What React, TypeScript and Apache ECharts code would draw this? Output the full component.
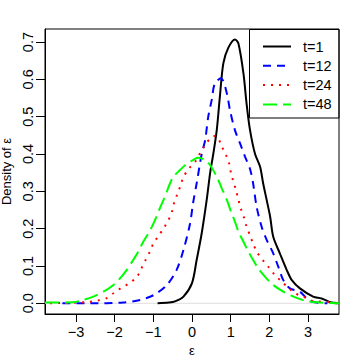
import React, { useEffect, useRef } from "react";
import * as echarts from "echarts";

const seriesNames = ["t=1", "t=12", "t=24", "t=48"];
const xTicks = [-3, -2, -1, 0, 1, 2, 3];
const yTicks = [0, 0.1, 0.2, 0.3, 0.4, 0.5, 0.6, 0.7];

const t1: number[][] = [
  [-0.89, 0], [-0.6, 0.002], [-0.44, 0.005], [-0.22, 0.018], [0, 0.054], [0.12, 0.116],
  [0.25, 0.187], [0.38, 0.277], [0.47, 0.35], [0.55, 0.4], [0.64, 0.464], [0.72, 0.553],
  [0.81, 0.643], [0.94, 0.685], [1.11, 0.707], [1.2, 0.696], [1.33, 0.616], [1.41, 0.536],
  [1.5, 0.464], [1.63, 0.4], [1.76, 0.366], [1.84, 0.321], [1.93, 0.277], [2.02, 0.232],
  [2.1, 0.178], [2.27, 0.134], [2.45, 0.089], [2.58, 0.062], [2.79, 0.04], [3.13, 0.018],
  [3.35, 0.013], [3.57, 0.003], [3.8, 0],
];
const t12: number[][] = [
  [-3.35, 0], [-2.64, 0], [-1.78, 0.002], [-1.34, 0.009], [-0.99, 0.022], [-0.65, 0.049],
  [-0.4, 0.089], [-0.22, 0.143], [-0.05, 0.214], [0.03, 0.27], [0.12, 0.321], [0.25, 0.4],
  [0.34, 0.437], [0.42, 0.5], [0.51, 0.545], [0.59, 0.589], [0.75, 0.603], [0.9, 0.563],
  [0.98, 0.518], [1.11, 0.464], [1.24, 0.429], [1.37, 0.393], [1.5, 0.36], [1.58, 0.321],
  [1.67, 0.259], [1.8, 0.205], [1.93, 0.17], [2.1, 0.134], [2.23, 0.098], [2.36, 0.062],
  [2.53, 0.04], [2.79, 0.031], [3.01, 0.009], [3.22, 0.002], [3.5, 0],
];
const t24: number[][] = [
  [-3.67, 0], [-2.72, 0.003], [-2.46, 0.007], [-2.22, 0.013], [-2.03, 0.027], [-1.82, 0.042],
  [-1.62, 0.054], [-1.43, 0.07], [-1.32, 0.091], [-1.21, 0.114], [-1.09, 0.138], [-1.0, 0.16],
  [-0.87, 0.18], [-0.74, 0.2], [-0.61, 0.223], [-0.52, 0.245], [-0.46, 0.27], [-0.37, 0.295],
  [-0.29, 0.317], [-0.22, 0.339], [-0.07, 0.362], [0.08, 0.379], [0.21, 0.402], [0.34, 0.424],
  [0.5, 0.445], [0.6, 0.448], [0.68, 0.442], [0.77, 0.42], [0.88, 0.397], [0.96, 0.375],
  [1.01, 0.348], [1.07, 0.326], [1.14, 0.302], [1.2, 0.277], [1.26, 0.254], [1.34, 0.231],
  [1.41, 0.206], [1.5, 0.182], [1.58, 0.16], [1.68, 0.137], [1.83, 0.116], [1.97, 0.098],
  [2.14, 0.076], [2.32, 0.058], [2.49, 0.042], [2.66, 0.027], [2.88, 0.018], [3.09, 0.007],
  [3.57, 0.003], [3.8, 0],
];
const t48: number[][] = [
  [-3.8, 0.002], [-3.07, 0.003], [-2.81, 0.009], [-2.55, 0.018], [-2.29, 0.031], [-2.03, 0.049],
  [-1.86, 0.067], [-1.69, 0.089], [-1.52, 0.116], [-1.39, 0.138], [-1.26, 0.165], [-1.09, 0.194],
  [-0.96, 0.222], [-0.85, 0.25], [-0.7, 0.286], [-0.57, 0.321], [-0.48, 0.339], [-0.31, 0.357],
  [-0.18, 0.37], [0.0, 0.382], [0.15, 0.39], [0.34, 0.384], [0.47, 0.37], [0.64, 0.339],
  [0.77, 0.308], [0.9, 0.277], [1.01, 0.245], [1.11, 0.219], [1.2, 0.192], [1.33, 0.165],
  [1.45, 0.14], [1.58, 0.116], [1.71, 0.094], [1.89, 0.071], [2.1, 0.049], [2.36, 0.031],
  [2.62, 0.018], [2.96, 0.006], [3.31, 0.002], [3.82, 0],
];
const baseline: number[][] = [[-3.8, 0], [3.8, 0]];

const FONT = "Liberation Sans, Arial, Helvetica, sans-serif";
const FS = 14.5;
const NAME_FS = 13;

export default function App() {
  const ref = useRef<HTMLDivElement>(null);
  useEffect(() => {
    if (!ref.current) return;
    const chart = echarts.init(ref.current, null, { renderer: "svg" });
    const mk = (name: string, data: number[][], color: string, type: any, width = 2) => ({
      name,
      type: "line",
      data,
      smooth: 0.3,
      symbol: "none",
      lineStyle: { color, width, type, cap: "butt" },
      itemStyle: { color },
      z: 3,
    });
    chart.setOption({
      animation: false,
      backgroundColor: "#ffffff",
      textStyle: { fontFamily: FONT },
      grid: {
        left: 45, top: 29, width: 294, height: 285,
        containLabel: false, outerBoundsMode: "none",
        show: true, borderColor: "#000", borderWidth: 1, backgroundColor: "transparent",
      },
      xAxis: {
        type: "value", min: -3.8, max: 3.8,
        name: "ε", nameLocation: "middle", nameGap: 30,
        nameTextStyle: { fontSize: NAME_FS, color: "#000", fontFamily: FONT },
        axisLine: { show: true, onZero: false, lineStyle: { color: "#000", width: 1 } },
        axisTick: { show: true, length: 8, inside: false, customValues: xTicks, lineStyle: { color: "#000" } },
        axisLabel: {
          customValues: xTicks, fontSize: FS, color: "#000", margin: 10.5, fontFamily: FONT,
          formatter: (v: number) => (v < 0 ? "\u2212" + Math.abs(v) : String(v)),
        },
        splitLine: { show: false },
      },
      yAxis: {
        type: "value", min: -0.0287, max: 0.735,
        name: "Density of ε", nameLocation: "middle", nameGap: 27, nameRotate: 90,
        nameTextStyle: { fontSize: NAME_FS, color: "#000", fontFamily: FONT },
        axisLine: { show: true, onZero: false, lineStyle: { color: "#000", width: 1 } },
        axisTick: { show: true, length: 9, inside: false, customValues: yTicks, lineStyle: { color: "#000" } },
        axisLabel: {
          customValues: yTicks, fontSize: FS, color: "#000", margin: 9.5, rotate: 90, fontFamily: FONT,
          formatter: (v: number) => v.toFixed(1),
        },
        splitLine: { show: false },
      },
      legend: {
        data: seriesNames,
        orient: "vertical",
        left: 262, top: 39,
        padding: 0,
        itemWidth: 28, itemHeight: 14, itemGap: 4.3,
        itemStyle: { opacity: 0 },
        textStyle: { fontSize: FS, color: "#000", fontFamily: FONT, padding: [0, 0, 0, 7] },
      },
      graphic: [
        {
          type: "rect", z: 10, silent: true,
          shape: { x: 249.5, y: 29.5, width: 89.5, height: 88.5 },
          style: { fill: "transparent", stroke: "#000", lineWidth: 1 },
        },
      ],
      series: [
        {
          name: "baseline", type: "line", data: baseline, symbol: "none", silent: true,
          lineStyle: { color: "#dddddd", width: 1 }, z: 1,
        },
        mk(seriesNames[0], t1, "#000000", "solid"),
        mk(seriesNames[1], t12, "#0000ff", [8, 6]),
        mk(seriesNames[2], t24, "#ff0000", [2, 6]),
        mk(seriesNames[3], t48, "#00ff00", [14, 6]),
      ],
    });
    return () => chart.dispose();
  }, []);
  return (
    <div
      ref={ref}
      style={{ position: "fixed", left: 0, top: 0, width: 359, height: 359, background: "#fff" }}
    />
  );
}
